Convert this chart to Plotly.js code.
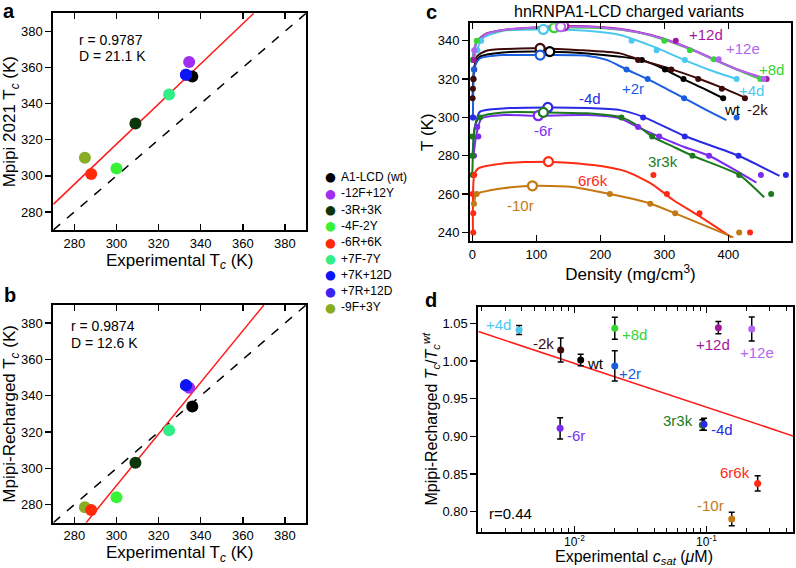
<!DOCTYPE html>
<html><head><meta charset="utf-8">
<script src="https://cdn.plot.ly/plotly-3.0.1.min.js"></script>
<style>html,body{margin:0;padding:0;background:#fff}#chart{width:796px;height:568px}</style>
</head><body><div id="chart"></div>
<script>
// ---------------- Panels a & b ----------------
const variants     = ['A1-LCD (wt)','-12F+12Y','-3R+3K','-4F-2Y','-6R+6K','+7F-7Y','+7K+12D','+7R+12D','-9F+3Y'];
const expTc        = [336, 334.5, 309, 300, 288, 325, 333, 333, 285];
const mpipi2021Tc  = [355, 363, 329, 304, 301, 345, 356, 356, 310];
const rechargedTc  = [334, 344.4, 303, 284, 277, 321, 345.7, 345.7, 278.5];
const fitA_x = [270, 365.2], fitA_y = [284.2, 390];
const fitB_x = [285.6, 370], fitB_y = [270, 390];
const identityLine = [270, 390];
const statA = ['r = 0.9787', 'D = 21.1 K'];
const statB = ['r = 0.9874', 'D = 12.6 K'];

// ---------------- Panel c ----------------
const cNames = ['wt','-2k','+2r','+4d','+8d','+12d','+12e','-4d','-6r','3r3k','6r6k','-10r'];
const curveDensity = [
  [1.5,4,12,48,121,179,231,265,301,330,361,392],
  [0.5,1.5,7,22,54,106,168,231,259,311,353,390,426],
  [1,4,12,48,106,179,210,241,274,304,331,366,397],
  [2,8,17,48,111,179,231,283,332,371,413],
  [0,3,7,22,54,128,205,257,298,340,377,413,450],
  [1.6,6.8,22,54,100,143,205,257,298,340,377,413,460],
  [1,3,7,22,54,138,205,257,298,340,377,413,455],
  [0.5,4,12,48,118,179,231,267,332,416,480],
  [1.6,6.8,14.6,48,103,179,231,259,292,330,370,444],
  [0,4,12,48,111,179,233,257,281,314,344,417,456],
  [1,3,9.4,48,119,189,241,283,314,356,405],
  [2.6,6.8,48,94,153,215,278,317,408]
];
const curveT = [
  [320,327.3,331.7,333.9,334.3,333.4,331.7,330,325,320,315.1,310],
  [310,320,331.7,334.8,335.7,336,335.1,333.4,330.3,325.2,320.3,315.5,310.3],
  [300,326.4,330.8,332.5,332.5,332.2,330,325,320,314.8,310,303.8,298.6],
  [330,336,341.5,345.2,345.9,345.2,343,336.9,329.9,324.7,320],
  [330,336,340,343.6,345.7,346.8,346.5,344.4,340.8,335.6,330.2,325,320],
  [331,339.5,343.8,345.9,347,347.7,347,344.7,341.2,336,330.4,325.2,320],
  [330,335,339,343.5,345.8,347.3,346.8,344.5,341,335.8,330.3,325.1,320.2],
  [281,295,303,304.7,305.2,304.9,303.8,300.3,290.3,280,269.5],
  [279.5,291.7,299.5,301.2,300.9,301.2,299.5,294.8,290,284.7,280,266],
  [270,295,300.3,302.6,302.6,302.1,300,296,290,284.7,280,270,258.3],
  [240,269.9,273.4,276,276.9,275.1,271.7,264.7,256.9,248.2,237.4],
  [255,260,263,264.3,263.8,260,255.1,249.9,237.4]
];
const diluteDensity = [[2],[0.5,1,1.5,3,1.5],[1,2.5],[8,14],[0,7],[2],[3],[1],[2.6,9.4,7.8],[0,0,0,12],[1.5,1.5,0.5,3],[2.6,6.8]];
const diluteT       = [[320],[310,315,320,325,330],[300,325],[335,340],[330,340],[330],[335],[300],[280,290,295],[270,280,290,300],[240,250,260,270],[255,260]];
const denseDensity  = [[265,301,330,392],[259,311,353,390,426],[241,274,331,413],[249,288,332,413],[300,340,377,450],[318,460],[385,455],[267,332,416,490],[259,292,370,451],[233,281,344,417,467],[283,304,355,434],[215,278,317,417]];
const denseT        = [[330,325,320,310],[330,325,320,315,310],[325,320,310,300],[340,335,330,320],[340,335.1,330.3,320],[340,320],[330.3,320],[300,290,280,270],[295,290,280,270],[300,290,280,270,260],[270,260,250,240],[260,255,250,240]];
const critDensity = [121,106,106,111,128,143,138,118,103,111,119,94];
const critT       = [334.3,336,332.5,345.9,346.8,347.7,347.3,305.2,300.9,302.6,276.9,264.3];

// ---------------- Panel d ----------------
const dNames  = ['+4d','-2k','wt','+2r','+8d','-6r','3r3k','-4d','+12d','+12e','6r6k','-10r'];
const csat    = [0.00382,0.00788,0.01116,0.0202,0.0202,0.0078,0.0927,0.0954,0.1225,0.2188,0.2427,0.1545];
const tcRatio = [1.0412,1.0146,1.0013,0.9934,1.0434,0.9106,0.915,0.916,1.0442,1.0425,0.8376,0.7903];
const tcErr   = [0.006,0.016,0.0075,0.02,0.0145,0.014,0.007,0.008,0.008,0.016,0.01,0.009];
const fitCsat = [0.001884, 0.4519], fitRatio = [1.039, 0.9004];
const dStat = 'r=0.44';
const dTickExp = [-2, -1];

// ---------------- styles ----------------
const abColors = {'A1-LCD (wt)':'#000000','-12F+12Y':'#a12cf2','-3R+3K':'#0b350b','-4F-2Y':'#38f238',
  '-6R+6K':'#ff2a0a','+7F-7Y':'#33ee88','+7K+12D':'#0a14f5','+7R+12D':'#3a22f0','-9F+3Y':'#88ad22'};
const cColors = {'wt':'#000000','-2k':'#3d0a0a','+2r':'#1a5ee0','+4d':'#4cc8f0','+8d':'#33d633','+12d':'#a3199e',
  '+12e':'#b266f0','-4d':'#2a2ae6','-6r':'#7a2cf0','3r3k':'#1c7a1c','6r6k':'#ff2a14','-10r':'#c47812'};
const drawOrder = ['-9F+3Y','-6R+6K','-4F-2Y','-3R+3K','+7F-7Y','-12F+12Y','A1-LCD (wt)','+7R+12D','+7K+12D'];

const F = 'Liberation Sans, Arial, Helvetica, sans-serif';
const W = 796, H = 568;
const dxp = (a,b)=>[a/W,b/W];
const dyp = (t,b)=>[1-b/H,1-t/H];
const P = (x,y)=>({x:x/W, y:1-y/H, xref:'paper', yref:'paper'});

const traces = [];
traces.push({x:identityLine,y:identityLine,mode:'lines',line:{color:'#000',width:1.5,dash:'dash'},xaxis:'x',yaxis:'y',hoverinfo:'skip'});
traces.push({x:fitA_x,y:fitA_y,mode:'lines',line:{color:'#ff1a1a',width:1.5},xaxis:'x',yaxis:'y',hoverinfo:'skip'});
traces.push({x:identityLine,y:identityLine,mode:'lines',line:{color:'#000',width:1.5,dash:'dash'},xaxis:'x2',yaxis:'y2',hoverinfo:'skip'});
traces.push({x:fitB_x,y:fitB_y,mode:'lines',line:{color:'#ff1a1a',width:1.5},xaxis:'x2',yaxis:'y2',hoverinfo:'skip'});
drawOrder.forEach(name=>{
  const i = variants.indexOf(name);
  traces.push({x:[expTc[i]],y:[mpipi2021Tc[i]],mode:'markers',name:name,marker:{size:12,color:abColors[name]},xaxis:'x',yaxis:'y'});
  traces.push({x:[expTc[i]],y:[rechargedTc[i]],mode:'markers',name:name,marker:{size:12,color:abColors[name]},xaxis:'x2',yaxis:'y2'});
});
cNames.forEach((n,i)=>{
  traces.push({x:curveDensity[i],y:curveT[i],mode:'lines',line:{color:cColors[n],width:2,shape:'spline',smoothing:0.6},
    xaxis:'x3',yaxis:'y3',hoverinfo:'skip'});
});
cNames.forEach((n,i)=>{
  traces.push({x:diluteDensity[i].concat(denseDensity[i]),y:diluteT[i].concat(denseT[i]),mode:'markers',
    marker:{size:6,color:cColors[n]},xaxis:'x3',yaxis:'y3'});
});
cNames.forEach((n,i)=>{
  traces.push({x:[critDensity[i]],y:[critT[i]],mode:'markers',
    marker:{size:9,color:'#fff',line:{color:cColors[n],width:2.2}},xaxis:'x3',yaxis:'y3'});
});
traces.push({x:fitCsat,y:fitRatio,mode:'lines',line:{color:'#ff1a1a',width:1.5},xaxis:'x4',yaxis:'y4',hoverinfo:'skip'});
traces.push({x:csat,y:tcRatio,mode:'markers',marker:{size:7,color:dNames.map(n=>cColors[n])},
  error_y:{type:'data',array:tcErr,color:'#000',thickness:1.5,width:3},xaxis:'x4',yaxis:'y4'});

function xax(o){return Object.assign({showline:true,linewidth:2,linecolor:'#000',mirror:'ticks',ticks:'inside',ticklen:6,
  tickwidth:1.5,tickcolor:'#000',showgrid:false,zeroline:false,tickfont:{size:13,color:'#000'},automargin:false},o);}
function yax(o){return Object.assign({showline:true,linewidth:2,linecolor:'#000',mirror:true,ticks:'outside',ticklen:6,
  tickwidth:1.5,tickcolor:'#000',showgrid:false,zeroline:false,tickfont:{size:13,color:'#000'},automargin:false},o);}
function yov(base,anchor,o){return Object.assign({overlaying:base,anchor:anchor,side:'right',ticks:'inside',ticklen:6,tickwidth:1.5,
  tickcolor:'#000',showticklabels:false,showline:false,showgrid:false,zeroline:false},o);}
const tf = {size:17,color:'#000'};

const ann = [];
const addText=(t,x,y,o)=>ann.push(Object.assign(P(x,y),{text:t,showarrow:false,xanchor:'center',yanchor:'middle',
  font:{size:15,color:'#000'}},o||{}));
addText('<b>a</b>',9,11,{font:{size:20}});
addText('<b>b</b>',10,295,{font:{size:20}});
addText('<b>c</b>',431,12,{font:{size:20}});
addText('<b>d</b>',431,300,{font:{size:20}});
addText(statA[0],77,40,{xanchor:'left',font:{size:14}});
addText(statA[1],77,56,{xanchor:'left',font:{size:14}});
addText(statB[0],69,326,{xanchor:'left',font:{size:14}});
addText(statB[1],69,343,{xanchor:'left',font:{size:14}});
addText('hnRNPA1-LCD charged variants',629,11,{font:{size:16}});
addText('Experimental <i>c<sub>sat</sub></i> (<i>μ</i>M)',634,557,{font:{size:16}});
// log-axis tick labels of panel d (placed at the axis' own tick positions)
dTickExp.forEach(e=>ann.push({x:e,xref:'x4',y:1-541/H,yref:'paper',text:'10<sup>'+e+'</sup>',showarrow:false,
  xanchor:'center',yanchor:'middle',font:{size:12,color:'#000'}}));
// legend for panels a & b (text glyphs)
variants.forEach((v,i)=>{
  const y = 177 + 16.3*i;
  addText('●',330,y,{font:{size:12.5,color:abColors[v],family:'DejaVu Sans'}});
  addText(v,339,y,{xanchor:'left',font:{size:12}});
});
const cLab = {'+12d':[706,34],'+12e':[743,49],'+8d':[771,70],'+4d':[751,90],'wt':[732,109],'-2k':[757,109],
  '+2r':[633,88],'-4d':[590,98],'-6r':[543,130],'3r3k':[663,162],'6r6k':[593,180],'-10r':[520,205]};
Object.keys(cLab).forEach(k=>addText(k,cLab[k][0],cLab[k][1],{font:{size:15,color:cColors[k]}}));
const dLab = {'+4d':[498,324],'-2k':[543,343],'wt':[595,363],'+8d':[634,334],'+2r':[630,373],'-6r':[576,435],
  '3r3k':[678,420],'-4d':[722,429],'+12d':[713,344],'+12e':[757,352],'6r6k':[735,473],'-10r':[710,505]};
Object.keys(dLab).forEach(k=>addText(k,dLab[k][0],dLab[k][1],{font:{size:15,color:cColors[k]}}));
addText(dStat,510,513,{font:{size:15}});

const layout = {
  width:W,height:H,margin:{l:0,r:0,t:0,b:0},paper_bgcolor:'#fff',plot_bgcolor:'#fff',
  font:{family:F,color:'#000'},showlegend:false,
  xaxis: xax({domain:dxp(53.3,306),range:[270,390],tick0:280,dtick:20,anchor:'y',title:{text:'Experimental T<sub><i>c</i></sub> (K)',font:tf,standoff:3}}),
  yaxis: yax({domain:dyp(13.3,230),range:[270,390],tick0:280,dtick:20,anchor:'x',title:{text:'Mpipi 2021 T<sub><i>c</i></sub> (K)',font:tf,standoff:1}}),
  xaxis2:xax({domain:dxp(53.3,306),range:[270,390],tick0:280,dtick:20,anchor:'y2',title:{text:'Experimental T<sub><i>c</i></sub> (K)',font:tf,standoff:1}}),
  yaxis2:yax({domain:dyp(305,522.7),range:[270,390],tick0:280,dtick:20,anchor:'x2',title:{text:'Mpipi-Recharged T<sub><i>c</i></sub> (K)',font:tf,standoff:1}}),
  xaxis3:xax({domain:dxp(470,791),range:[-3.6,498],tick0:0,dtick:100,anchor:'y3',title:{text:'Density (mg/cm<sup>3</sup>)',font:tf,standoff:3}}),
  yaxis3:yax({domain:dyp(23.3,241),range:[235.5,349.1],tick0:240,dtick:20,anchor:'x3',title:{text:'T (K)',font:tf,standoff:0}}),
  xaxis4:xax({type:'log',domain:dxp(478.3,793),range:[-2.726,-0.348],dtick:1,showticklabels:false,anchor:'y4',
    minor:{ticks:'inside',ticklen:4,tickwidth:1,tickcolor:'#000',dtick:'D1',showgrid:false}}),
  yaxis4:yax({domain:dyp(306.7,531.7),range:[0.7735,1.072],tick0:0.8,dtick:0.05,tickformat:'.2f',anchor:'x4',
    title:{text:'Mpipi-Recharged <i>T<sub>c</sub></i>/<i>T<sub>c</sub><sup>wt</sup></i>',font:{size:16,color:'#000'},standoff:0}}),
  yaxis5:yov('y','x',{range:[270,390],tick0:280,dtick:20}),
  yaxis6:yov('y2','x2',{range:[270,390],tick0:280,dtick:20}),
  yaxis7:yov('y3','x3',{range:[235.5,349.1],tick0:240,dtick:20}),
  yaxis8:yov('y4','x4',{range:[0.7735,1.072],tick0:0.8,dtick:0.05}),
  annotations:ann
};
Plotly.newPlot('chart',traces,layout,{staticPlot:true});
</script></body></html>
